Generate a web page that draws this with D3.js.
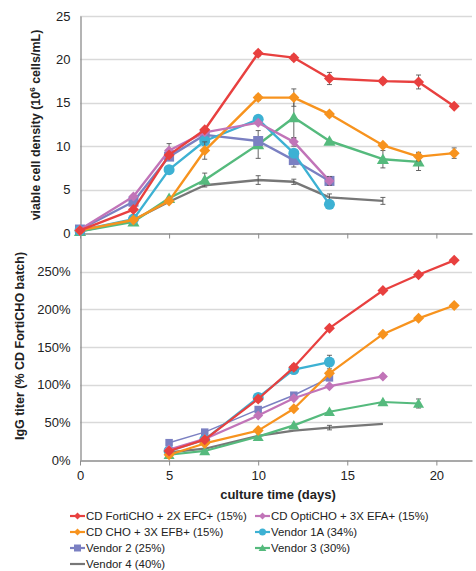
<!DOCTYPE html>
<html>
<head>
<meta charset="utf-8">
<script src="https://cdn.jsdelivr.net/npm/d3@7"></script>
<style>
  body { margin: 0; background: #fff; }
  svg { font-family: "Liberation Sans", Arial, sans-serif; }
</style>
</head>
<body>
<div id="chart"></div>
<script>
"use strict";

// ---- data
var days = [0, 3, 5, 7, 10, 12, 14, 17, 19, 21];
var titerDays = [5, 7, 10, 12, 14, 17, 19, 21];

var seriesNames = [
    "CD FortiCHO + 2X EFC+ (15%)",
    "CD OptiCHO + 3X EFA+ (15%)",
    "CD CHO + 3X EFB+ (15%)",
    "Vendor 1A (34%)",
    "Vendor 2 (25%)",
    "Vendor 3 (30%)",
    "Vendor 4 (40%)"
];
var seriesColors = ["#e8403f", "#c174b8", "#f7931e", "#3db1d3", "#7b80c2", "#55ba7d", "#777777"];
var seriesShapes = ["diamond", "diamond", "diamond", "circle", "square", "triangle", "none"];

// viable cell density (10^6 cells/mL), one value per entry of days
var vcdForti   = [0.3, 2.7, 9.0, 11.9, 20.7, 20.2, 17.8, 17.5, 17.4, 14.6];
var vcdOpti    = [0.4, 4.2, 9.5, 11.6, 12.7, 10.5, 6.0];
var vcdCho     = [0.3, 1.5, 3.7, 9.5, 15.6, 15.6, 13.7, 10.1, 8.8, 9.2];
var vcdVendor1 = [0.3, 1.6, 7.3, 10.6, 13.1, 9.2, 3.3];
var vcdVendor2 = [0.4, 3.6, 8.8, 11.3, 10.6, 8.4, 6.0];
var vcdVendor3 = [0.2, 1.3, 4.0, 6.1, 10.2, 13.3, 10.6, 8.5, 8.2];
var vcdVendor4 = [0.2, 1.5, 3.6, 5.5, 6.1, 5.9, 4.1, 3.7];

var vcdErrForti   = [0, 0, 0, 0, 0.3, 0.3, 0.7, 0.3, 0.8, 0];
var vcdErrOpti    = [0, 0, 0.8, 0, 0, 0.5, 0.5];
var vcdErrCho     = [0, 0, 0, 1.0, 0.3, 1.0, 0.3, 0, 0.5, 0.6];
var vcdErrVendor1 = [0, 0, 0, 0, 0, 0, 0];
var vcdErrVendor2 = [0, 0, 0, 0, 0, 0.8, 0];
var vcdErrVendor3 = [0, 0, 0, 0.8, 1.6, 2.4, 0, 1.0, 1.0];
var vcdErrVendor4 = [0, 0, 0, 0, 0.5, 0.3, 0.4, 0.4];

// IgG titer (fraction of CD FortiCHO batch), one value per entry of titerDays
var titerForti   = [0.12, 0.27, 0.81, 1.23, 1.75, 2.25, 2.46, 2.65];
var titerOpti    = [0.14, 0.28, 0.59, 0.82, 0.98, 1.11];
var titerCho     = [0.07, 0.22, 0.39, 0.68, 1.15, 1.67, 1.88, 2.05];
var titerVendor1 = [0.12, 0.27, 0.83, 1.20, 1.30];
var titerVendor2 = [0.23, 0.37, 0.67, 0.86, 1.09];
var titerVendor3 = [0.07, 0.12, 0.31, 0.46, 0.64, 0.77, 0.75];
var titerVendor4 = [0.10, 0.15, 0.32, 0.39, 0.43, 0.48];

var titerErrForti   = [0, 0, 0, 0.04, 0, 0, 0, 0];
var titerErrOpti    = [0, 0, 0, 0, 0, 0];
var titerErrCho     = [0, 0, 0, 0, 0, 0, 0, 0];
var titerErrVendor1 = [0, 0, 0, 0.03, 0.09];
var titerErrVendor2 = [0, 0, 0, 0, 0];
var titerErrVendor3 = [0, 0, 0, 0, 0, 0, 0.06];
var titerErrVendor4 = [0, 0, 0, 0, 0.03, 0];

var vcdTicks = [0, 5, 10, 15, 20, 25];
var titerTicks = [0, 0.5, 1, 1.5, 2, 2.5];
var dayTicks = [0, 5, 10, 15, 20];

var vcdValues = [vcdForti, vcdOpti, vcdCho, vcdVendor1, vcdVendor2, vcdVendor3, vcdVendor4];
var vcdErrors = [vcdErrForti, vcdErrOpti, vcdErrCho, vcdErrVendor1, vcdErrVendor2, vcdErrVendor3, vcdErrVendor4];
var titerValues = [titerForti, titerOpti, titerCho, titerVendor1, titerVendor2, titerVendor3, titerVendor4];
var titerErrors = [titerErrForti, titerErrOpti, titerErrCho, titerErrVendor1, titerErrVendor2, titerErrVendor3, titerErrVendor4];

// ---- layout
var width = 476, height = 571;
var svg = d3.select("#chart").append("svg")
    .attr("width", width)
    .attr("height", height);

var x = d3.scaleLinear().domain([0, 22]).range([80, 472]);
var yTop = d3.scaleLinear().domain([0, 25]).range([233, 16]);
var yBot = d3.scaleLinear().domain([0, 3]).range([460, 234]);

var gridColor = "#d9d9d9", axisColor = "#8c8c8c", textColor = "#222";

function markerPath(shape, s) {
    var h = s / 2;
    if (shape == "diamond") return "M0," + (-h) + "L" + h + ",0L0," + h + "L" + (-h) + ",0Z";
    if (shape == "square") return "M" + (-h) + "," + (-h) + "h" + s + "v" + s + "h" + (-s) + "Z";
    if (shape == "triangle") return "M0," + (-h * 1.05) + "L" + (h * 1.1) + "," + (h * 0.85) + "L" + (-h * 1.1) + "," + (h * 0.85) + "Z";
    if (shape == "circle") return d3.symbol(d3.symbolCircle, Math.PI * h * h)();
    return null;
}

function drawPanel(y, ticks, tickFormat, xs, values, errors, opts) {
    var g = svg.append("g");

    // gridlines
    g.selectAll("line.grid")
        .data(ticks.filter(function(t) { return t > 0; }))
        .enter().append("line")
        .attr("x1", x(0)).attr("x2", x(22))
        .attr("y1", function(d) { return Math.round(y(d)) + 0.5; })
        .attr("y2", function(d) { return Math.round(y(d)) + 0.5; })
        .attr("stroke", gridColor).attr("stroke-width", 1.3);

    // y axis
    var yAxis = g.append("g")
        .attr("transform", "translate(" + (x(0) + 0.5) + ",0)")
        .call(d3.axisLeft(y).tickValues(ticks).tickFormat(tickFormat).tickSize(0).tickPadding(10));
    yAxis.select(".domain").attr("stroke", axisColor).attr("stroke-width", 1.3);
    yAxis.selectAll("text").attr("font-size", 13).attr("fill", textColor)
        .attr("font-family", "Liberation Sans, Arial, sans-serif");

    // x axis
    var xAxis = g.append("g")
        .attr("transform", "translate(0," + (Math.round(y(0)) + 0.5) + ")")
        .call(d3.axisBottom(x).tickValues(dayTicks).tickSize(5).tickSizeOuter(0)
            .tickFormat(opts.xLabels ? d3.format("d") : ""));
    xAxis.select(".domain").attr("stroke", axisColor).attr("stroke-width", 1.3);
    xAxis.selectAll(".tick line").attr("stroke", axisColor);
    xAxis.selectAll("text").attr("font-size", 13).attr("fill", textColor).attr("dy", "0.9em")
        .attr("font-family", "Liberation Sans, Arial, sans-serif");

    // series, drawn back to front so the first one sits on top
    var order = d3.range(values.length).reverse();
    order.forEach(function(i) {
        var pts = values[i].map(function(v, j) {
            return { day: xs[j], v: v, e: errors[i][j] };
        });
        var sg = g.append("g");
        var lw = opts.lineWidth[i];

        sg.append("path")
            .datum(pts)
            .attr("fill", "none")
            .attr("stroke", seriesColors[i])
            .attr("stroke-width", lw)
            .attr("stroke-linejoin", "round")
            .attr("d", d3.line().x(function(d) { return x(d.day); }).y(function(d) { return y(d.v); }));

        var eb = sg.selectAll("g.err")
            .data(pts.filter(function(d) { return d.e > 0; }))
            .enter().append("g")
            .attr("stroke", "#555").attr("stroke-width", 0.9);
        eb.append("line")
            .attr("x1", function(d) { return x(d.day); }).attr("x2", function(d) { return x(d.day); })
            .attr("y1", function(d) { return y(d.v - d.e); }).attr("y2", function(d) { return y(d.v + d.e); });
        [-1, 1].forEach(function(sgn) {
            eb.append("line")
                .attr("x1", function(d) { return x(d.day) - 2.5; }).attr("x2", function(d) { return x(d.day) + 2.5; })
                .attr("y1", function(d) { return y(d.v + sgn * d.e); }).attr("y2", function(d) { return y(d.v + sgn * d.e); });
        });

        if (seriesShapes[i] != "none") {
            sg.selectAll("path.mk")
                .data(pts)
                .enter().append("path")
                .attr("transform", function(d) { return "translate(" + x(d.day) + "," + y(d.v) + ")"; })
                .attr("d", markerPath(seriesShapes[i], opts.markerSize[i]))
                .attr("fill", seriesColors[i]);
        }
    });
    return g;
}

drawPanel(yTop, vcdTicks, d3.format("d"), days, vcdValues, vcdErrors, {
    xLabels: false,
    lineWidth: [2.4, 2.4, 2.4, 2.4, 2.4, 2.4, 2.4],
    markerSize: [11, 10, 11, 11, 10, 11, 0]
});
drawPanel(yBot, titerTicks, d3.format(".0%"), titerDays, titerValues, titerErrors, {
    xLabels: true,
    lineWidth: [2.2, 2.2, 2.2, 2.2, 1.5, 2.2, 2.2],
    markerSize: [11, 10, 11, 11, 7.5, 10, 0]
});

// axis titles
svg.append("text")
    .attr("transform", "translate(40,125) rotate(-90)")
    .attr("text-anchor", "middle")
    .attr("font-size", 12.5).attr("font-weight", "bold").attr("fill", textColor)
    .text("viable cell density (10")
    .append("tspan").attr("font-size", 8).attr("dy", -5).text("6")
    .select(function() { return this.parentNode; })
    .append("tspan").attr("dy", 5).text(" cells/mL)");

svg.append("text")
    .attr("transform", "translate(24,346) rotate(-90)")
    .attr("text-anchor", "middle")
    .attr("font-size", 12.5).attr("font-weight", "bold").attr("fill", textColor)
    .text("IgG titer (% CD FortiCHO batch)");

svg.append("text")
    .attr("x", 278).attr("y", 499)
    .attr("text-anchor", "middle")
    .attr("font-size", 13).attr("font-weight", "bold").attr("fill", textColor)
    .text("culture time (days)");

// legend
var legendPos = [[70, 516], [255, 516], [70, 532], [255, 532], [70, 548], [255, 548], [70, 564]];
var legend = svg.append("g").selectAll("g")
    .data(seriesNames)
    .enter().append("g")
    .attr("transform", function(d, i) { return "translate(" + legendPos[i][0] + "," + legendPos[i][1] + ")"; });
legend.append("line")
    .attr("x1", 0).attr("x2", 15)
    .attr("stroke", function(d, i) { return seriesColors[i]; })
    .attr("stroke-width", 2.2);
legend.append("path")
    .attr("transform", "translate(7.5,0)")
    .attr("d", function(d, i) { return markerPath(seriesShapes[i], 7); })
    .attr("fill", function(d, i) { return seriesColors[i]; });
legend.append("text")
    .attr("x", 16).attr("dy", "0.35em")
    .attr("font-size", 11.4).attr("fill", textColor)
    .text(function(d) { return d; });
</script>
</body>
</html>
